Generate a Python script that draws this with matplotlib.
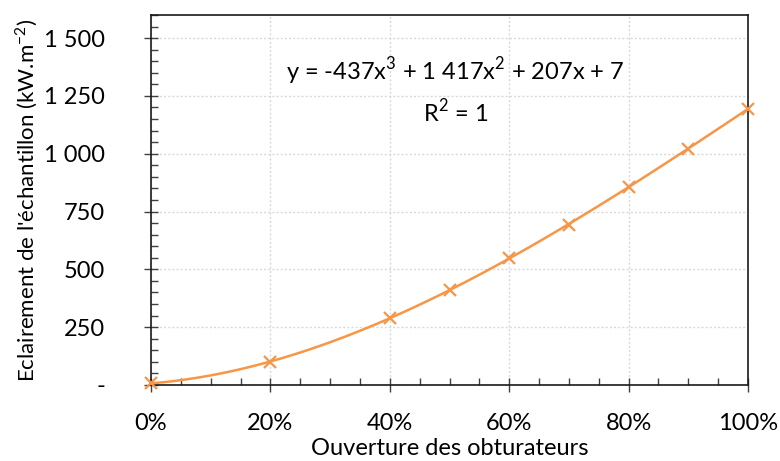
import numpy as np
import matplotlib.pyplot as plt
from matplotlib.ticker import MultipleLocator, FuncFormatter

# shutter opening (fraction) and measured irradiance
ouverture = [0.0, 0.2, 0.4, 0.5, 0.6, 0.7, 0.8, 0.9, 1.0]
eclairement = [7, 100, 290, 410, 550, 693, 855, 1022, 1194]

# cubic trendline coefficients (highest order first)
coef = [-437, 1417, 207, 7]
eq_text = ("y = -437x$^{\\mathregular{3}}$ + 1 417x$^{\\mathregular{2}}$ + 207x + 7\n"
           "R$^{\\mathregular{2}}$ = 1")

orange = '#F79646'

plt.rcParams['font.family'] = ['Lato', 'DejaVu Sans']
fig = plt.figure(figsize=(7.8, 4.61), dpi=100)
ax = fig.add_axes([0.1936, 0.1649, 0.7654, 0.8026])

xx = np.linspace(0, 1, 200)
ax.plot(xx, np.polyval(coef, xx), color=orange, lw=1.8, zorder=3)
ax.plot(ouverture, eclairement, ls='none', marker='x', ms=9, mew=1.6,
        color=orange, zorder=4, clip_on=False)

ax.set_xlim(0, 1)
ax.set_ylim(0, 1600)
ax.xaxis.set_major_locator(MultipleLocator(0.2))
ax.xaxis.set_minor_locator(MultipleLocator(0.05))
ax.yaxis.set_major_locator(MultipleLocator(250))
ax.yaxis.set_minor_locator(MultipleLocator(50))

def fmt_y(v, pos):
    if abs(v) < 1e-9:
        return '-'
    return '{:,.0f}'.format(v).replace(',', ' ')

ax.yaxis.set_major_formatter(FuncFormatter(fmt_y))
ax.xaxis.set_major_formatter(FuncFormatter(lambda v, p: '{:.0f}%'.format(v * 100)))

ax.tick_params(which='major', direction='inout', length=10, width=1, color='#404040',
               labelsize=17)
ax.tick_params(axis='x', which='major', pad=15)
ax.tick_params(axis='y', which='major', pad=28)
ax.tick_params(which='minor', direction='in', length=5, width=1, color='#404040')

ax.grid(which='major', color='#D9D9D9', ls=(0, (1.5, 1.5)), lw=1)
ax.set_axisbelow(True)
for s in ax.spines.values():
    s.set_color('#1a1a1a')
    s.set_linewidth(1.2)

ax.set_xlabel('Ouverture des obturateurs', fontsize=17, labelpad=3)
ax.set_ylabel("Eclairement de l'échantillon (kW.m$^{\\mathregular{-2}}$)", fontsize=16)
ax.yaxis.set_label_coords(-0.186, 0.5)

ax.text(0.51, 1275, eq_text, ha='center', va='center', fontsize=17, linespacing=1.45)

fig.savefig('out.png', dpi=100)
